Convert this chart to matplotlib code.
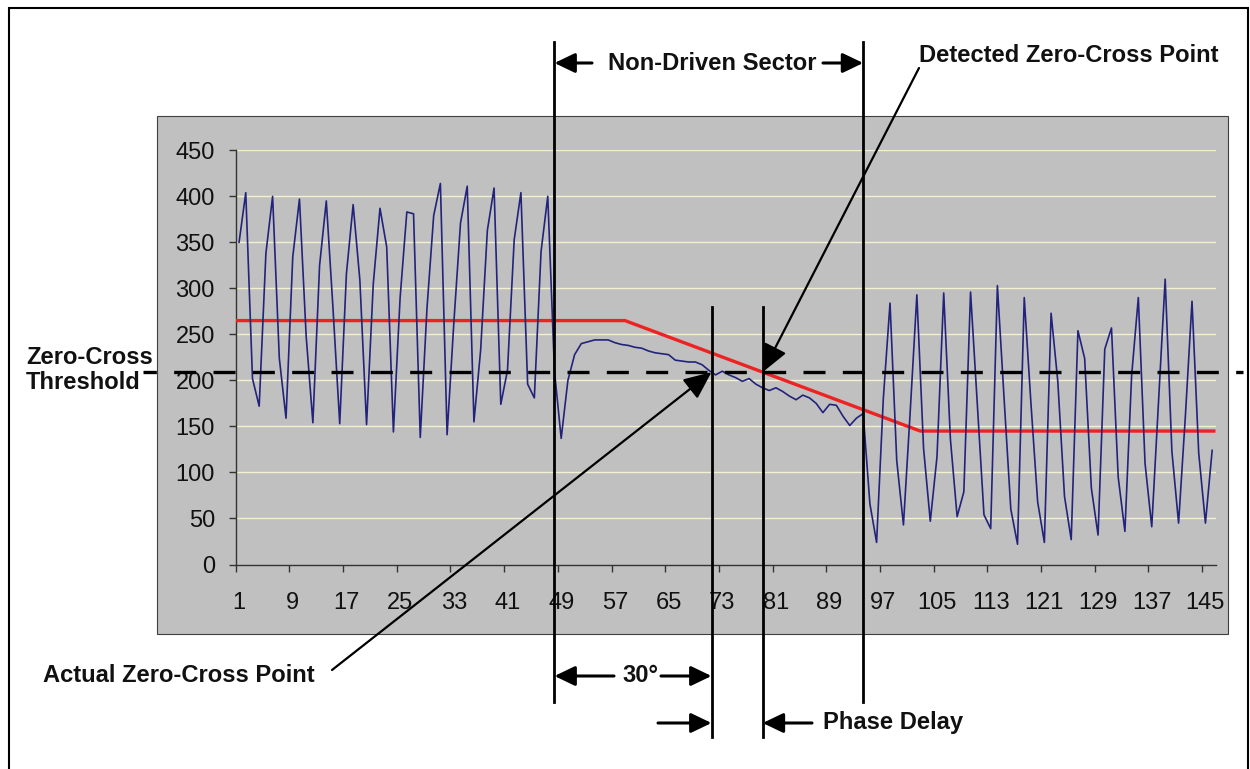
import numpy as np
import matplotlib
matplotlib.use("Agg")
import matplotlib.pyplot as plt
import matplotlib.patches as patches
import matplotlib.transforms as mtransforms

plt.rcParams['font.family'] = ['Liberation Sans', 'DejaVu Sans']

# --- back-EMF samples (ADC counts) ---
samples = np.arange(1, 147)
bemf = [
    350, 404, 202, 172, 338, 400, 224, 159, 334, 397,
    248, 154, 325, 395, 278, 153, 316, 391, 309, 152,
    305, 387, 345, 144, 290, 383, 381, 138, 278, 379,
    414, 141, 262, 371, 411, 155, 233, 363, 409, 174,
    211, 353, 404, 196, 181, 340, 400, 210, 137, 200,
    228, 240, 242, 244, 244, 244, 241, 239, 238, 236,
    235, 232, 230, 229, 228, 222, 221, 220, 220, 217,
    211, 206, 210, 206, 203, 199, 202, 196, 192, 189,
    192, 188, 183, 179, 184, 181, 175, 165, 174, 173,
    161, 151, 159, 164, 66, 24, 180, 284, 113, 43,
    165, 293, 126, 47, 117, 295, 136, 52, 79, 296,
    175, 54, 39, 303, 180, 60, 22, 290, 175, 68,
    24, 273, 199, 74, 27, 254, 224, 83, 32, 234,
    257, 95, 36, 205, 290, 110, 41, 175, 310, 123,
    45, 160, 286, 121, 45, 124,
]

# neutral-point estimate (red trace)
neutral_x = [0.5, 58.5, 102.5, 146.5]
neutral_y = [265, 265, 145, 145]

threshold = 209
sector_start = 48
sector_end = 94

y_ticks = list(range(0, 451, 50))
x_tick_labels = list(range(1, 146, 8))

bemf_arr = np.array(bemf, dtype=float)

# actual crossing: first fall through the threshold inside the non-driven sector
actual_zc = None
for i in range(sector_start + 1, len(bemf_arr) - 1):
    if bemf_arr[i] >= threshold > bemf_arr[i + 1]:
        actual_zc = samples[i] + (bemf_arr[i] - threshold) / (bemf_arr[i] - bemf_arr[i + 1])
        break

# detected crossing: where the neutral estimate drops to the threshold
detected_zc = float(np.interp(threshold, neutral_y[2:0:-1], neutral_x[2:0:-1]))

W, H = 1250, 769


def fx(x):
    return x / W


def fy(y):
    return 1 - y / H


fig = plt.figure(figsize=(12.5, 7.69), dpi=100)
fig.patch.set_facecolor('white')

# outer frame and chart-area fill
fig.patches.append(patches.Rectangle((fx(9), fy(790)), fx(1248) - fx(9), fy(8) - fy(790),
                                     transform=fig.transFigure, fill=False, ec='black',
                                     lw=1.5, zorder=10))
fig.patches.append(patches.Rectangle((fx(157), fy(634)), fx(1228) - fx(157), fy(116) - fy(634),
                                     transform=fig.transFigure, fc='#C0C0C0', ec='#404040',
                                     lw=0.8, zorder=-10))

ax = fig.add_axes([fx(235.7), fy(564.5), (1215.5 - 235.7) / W, (564.5 - 150.3) / H])
ax.set_facecolor('none')

ax.set_xlim(0.5, 146.5)
ax.set_ylim(0, 450)

for v in y_ticks[1:]:
    ax.axhline(v, color='#F2F2CC', lw=1.0, zorder=1)

ax.plot(neutral_x, neutral_y, color='#EE2222', lw=2.4, zorder=3, solid_capstyle='butt')
ax.plot(samples, bemf, color='#23237C', lw=1.2, zorder=4)

for side in ['top', 'right']:
    ax.spines[side].set_visible(False)
for side in ['left', 'bottom']:
    ax.spines[side].set_color('#333333')
    ax.spines[side].set_linewidth(1.0)

ax.set_yticks(y_ticks)
ax.tick_params(axis='y', direction='out', length=5, width=1, color='#333333',
               labelsize=17, pad=10, labelcolor='#111111')
ax.set_xticks(np.arange(0.5, 145, 8))
ax.set_xticklabels([])
ax.set_xticks(x_tick_labels, minor=True)
ax.set_xticklabels([str(v) for v in x_tick_labels], minor=True)
ax.tick_params(axis='x', which='major', direction='out', length=5, width=1, color='#333333')
ax.tick_params(axis='x', which='minor', length=0, labelsize=17, pad=20, labelcolor='#111111')

# threshold and sector markers
fig_y = mtransforms.blended_transform_factory(ax.transData, fig.transFigure)
fig_x = mtransforms.blended_transform_factory(fig.transFigure, ax.transData)

ax.plot([fx(143), fx(1243)], [threshold, threshold], transform=fig_x, color='black',
        lw=2.4, ls=(2.6, (6.6, 5.2)), clip_on=False, zorder=6)

for xv in (sector_start, sector_end):
    ax.plot([xv, xv], [fy(42), fy(702)], transform=fig_y, color='black', lw=2.0,
            clip_on=False, zorder=7)
for xv in (actual_zc, detected_zc):
    ax.plot([xv, xv], [fy(307), fy(737)], transform=fig_y, color='black', lw=2.0,
            clip_on=False, zorder=7)

arrow_kw = dict(arrowstyle='-|>,head_length=1.25,head_width=0.6', color='black', lw=2.2,
                shrinkA=0, shrinkB=0, mutation_scale=10)


def harrow(x_from_px, x_to, y_px):
    ax.annotate('', xy=(x_to, fy(y_px)), xycoords=fig_y,
                xytext=(fx(x_from_px), fy(y_px)), textcoords='figure fraction',
                arrowprops=arrow_kw, annotation_clip=False)


harrow(592, sector_start, 63)
harrow(823, sector_end, 63)
harrow(614, sector_start, 676)
harrow(661, actual_zc, 676)
harrow(658, actual_zc, 723)
harrow(812, detected_zc, 723)

diag_kw = dict(arrowstyle='-|>,head_length=1.7,head_width=0.75', color='black', lw=1.6,
               shrinkA=0, shrinkB=0, mutation_scale=10)
ax.annotate('', xy=(detected_zc, threshold), xycoords='data',
            xytext=(fx(919), fy(68)), textcoords='figure fraction',
            arrowprops=diag_kw, annotation_clip=False)
ax.annotate('', xy=(actual_zc, threshold), xycoords='data',
            xytext=(fx(332), fy(670)), textcoords='figure fraction',
            arrowprops=diag_kw, annotation_clip=False)

txt = dict(fontsize=17.1, fontweight='bold', color='#111111')
fig.text(fx(712.5), fy(63), 'Non-Driven Sector', ha='center', va='center', **txt)
fig.text(fx(919), fy(56), 'Detected Zero-Cross Point', ha='left', va='center', **txt)
fig.text(fx(26), fy(370), 'Zero-Cross\nThreshold', ha='left', va='center', linespacing=1.1, **txt)
fig.text(fx(43), fy(675), 'Actual Zero-Cross Point', ha='left', va='center', **txt)
fig.text(fx(640), fy(676), '30°', ha='center', va='center', **txt)
fig.text(fx(823), fy(723), 'Phase Delay', ha='left', va='center', **txt)

fig.savefig('out.png', dpi=100)
